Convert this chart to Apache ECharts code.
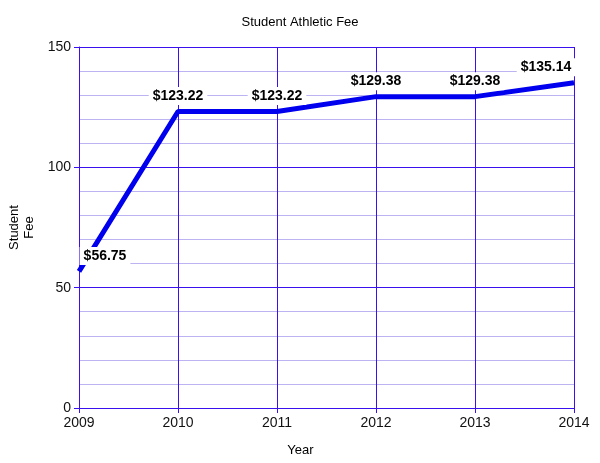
<!DOCTYPE html>
<html>
<head>
<meta charset="utf-8">
<script src="https://cdn.jsdelivr.net/npm/echarts@6/dist/echarts.min.js"></script>
<style>
  html, body { margin: 0; padding: 0; background: #fff; }
  #chart { width: 600px; height: 463px; }
</style>
</head>
<body>
<div id="chart"></div>
<script>
var years = ["2009", "2010", "2011", "2012", "2013", "2014"];
var fees = [56.75, 123.22, 123.22, 129.38, 129.38, 135.14];
// label nudges so the edge labels stay inside the plot
var labelShift = [[26, 0], [0, 0], [0, 0], [0, 0], [0, 0], [-28, 0]];

var gridColor = "#3a10ee";
var minorColor = "#bcb4f2";

var chart = echarts.init(document.getElementById("chart"));
chart.setOption({
  animation: false,
  title: {
    text: "Student Athletic Fee",
    left: "center",
    top: 11,
    textStyle: { fontFamily: "Liberation Sans", fontSize: 13, fontWeight: "normal", color: "#000" }
  },
  grid: { left: 79, right: 26, top: 47, bottom: 55, containLabel: false, outerBoundsMode: "none" },
  xAxis: {
    type: "category",
    data: years,
    boundaryGap: false,
    name: "Year",
    nameLocation: "middle",
    nameGap: 36,
    nameTextStyle: { fontFamily: "Liberation Sans", fontSize: 13, color: "#000", padding: [0, 52, 0, 0] },
    axisLine: { lineStyle: { color: gridColor, width: 1 } },
    axisTick: { show: true, length: 5, lineStyle: { color: gridColor } },
    axisLabel: { fontFamily: "Liberation Sans", fontSize: 14, color: "#111", margin: 8 },
    splitLine: { show: true, lineStyle: { color: gridColor, width: 1 } }
  },
  yAxis: {
    type: "value",
    min: 0,
    max: 150,
    interval: 50,
    name: "Student\nFee",
    nameLocation: "middle",
    nameGap: 42,
    nameRotate: 90,
    nameTextStyle: { fontFamily: "Liberation Sans", fontSize: 13, color: "#000", lineHeight: 15 },
    axisLine: { show: true, lineStyle: { color: gridColor, width: 1 } },
    axisTick: { show: true, length: 5, lineStyle: { color: gridColor } },
    axisLabel: { fontFamily: "Liberation Sans", fontSize: 14, color: "#111", margin: 8 },
    splitLine: { show: true, lineStyle: { color: gridColor, width: 1 } },
    minorTick: { show: false, splitNumber: 5 },
    minorSplitLine: { show: true, lineStyle: { color: minorColor, width: 1 } }
  },
  series: [{
    type: "line",
    data: fees.map(function (v, i) {
      return { value: v, label: { offset: labelShift[i] } };
    }),
    symbol: "circle",
    symbolSize: 1,
    showSymbol: true,
    itemStyle: { color: "rgba(0,0,0,0)" },
    lineStyle: { color: "#0000ee", width: 5 },
    label: {
      show: true,
      position: "top",
      distance: 6,
      formatter: function (p) { return "$" + p.value.toFixed(2); },
      fontFamily: "Liberation Sans",
      fontSize: 14,
      fontWeight: "bold",
      color: "#000",
      backgroundColor: "#fff",
      padding: [2, 4]
    }
  }]
});
</script>
</body>
</html>
